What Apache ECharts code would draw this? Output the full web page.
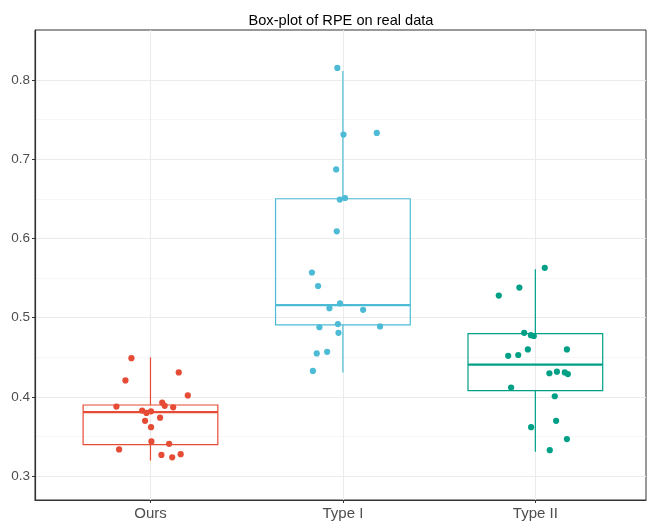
<!DOCTYPE html>
<html>
<head>
<meta charset="utf-8">
<script src="https://cdn.jsdelivr.net/npm/echarts@6/dist/echarts.min.js"></script>
<style>html,body{margin:0;padding:0;background:#fff}#c{width:647px;height:521px}</style>
</head>
<body>
<div id="c"></div>
<script>
const categories = ['Ours', 'Type I', 'Type II'];
const colors = ['#E64B35', '#4DBBD5', '#00A087'];
// box stats: [lower whisker, q1, median, q3, upper whisker]
const boxOurs  = [0.320, 0.340, 0.381, 0.390, 0.450];
const boxType1 = [0.431, 0.491, 0.516, 0.650, 0.811];
const boxType2 = [0.331, 0.408, 0.441, 0.480, 0.561];
// jittered points: [horizontal offset from category, value]
const ptsOurs = [
  [-0.099, 0.449], [0.147, 0.431], [-0.130, 0.421], [0.194, 0.402], [0.061, 0.393],
  [0.074, 0.389], [0.118, 0.387], [-0.177, 0.388], [-0.043, 0.383], [-0.021, 0.380],
  [0.003, 0.382], [0.050, 0.374], [-0.028, 0.370], [0.003, 0.362], [0.005, 0.344],
  [0.097, 0.341], [-0.163, 0.334], [0.057, 0.327], [0.113, 0.324], [0.157, 0.328]
];
const ptsType1 = [
  [-0.029, 0.815], [0.003, 0.731], [0.176, 0.733], [-0.035, 0.687], [-0.016, 0.649],
  [0.011, 0.651], [-0.032, 0.609], [-0.161, 0.557], [-0.129, 0.540], [-0.015, 0.518],
  [-0.070, 0.512], [0.105, 0.510], [-0.026, 0.492], [-0.122, 0.488], [0.193, 0.489],
  [-0.023, 0.481], [-0.082, 0.457], [-0.136, 0.455], [-0.156, 0.433]
];
const ptsType2 = [
  [0.049, 0.563], [-0.083, 0.538], [-0.190, 0.528], [-0.058, 0.481], [-0.023, 0.478],
  [-0.008, 0.477], [-0.039, 0.460], [0.164, 0.460], [-0.089, 0.453], [-0.141, 0.452],
  [0.073, 0.430], [0.112, 0.432], [0.153, 0.431], [0.169, 0.429], [-0.126, 0.412],
  [0.101, 0.401], [0.108, 0.370], [-0.022, 0.362], [0.164, 0.347], [0.075, 0.333]
];
const yTicks = [0.3, 0.4, 0.5, 0.6, 0.7, 0.8];
const yMinor = [0.35, 0.45, 0.55, 0.65, 0.75];

const boxes = [boxOurs, boxType1, boxType2];
const pts = [ptsOurs, ptsType1, ptsType2];
const BOX_HALF = 0.35;

const chart = echarts.init(document.getElementById('c'), null, {renderer: 'canvas'});

const series = [];
// grid lines (bottom layer)
series.push({
  type: 'line', data: [], silent: true, zlevel: 0, z: 0,
  markLine: {
    silent: true, symbol: 'none', animation: false, label: {show: false},
    lineStyle: {color: '#F2F2F2', width: 0.6, type: 'solid'},
    data: yMinor.map(v => ({yAxis: v}))
  }
});
series.push({
  type: 'line', data: [], silent: true, zlevel: 0, z: 0,
  markLine: {
    silent: true, symbol: 'none', animation: false, label: {show: false},
    lineStyle: {color: '#EBEBEB', width: 1.1, type: 'solid'},
    data: yTicks.map(v => ({yAxis: v})).concat([1, 2, 3].map(v => ({xAxis: v})))
  }
});
// boxes
series.push({
  type: 'custom', zlevel: 1, z: 2,
  data: boxes.map((b, i) => [i + 1].concat(b).concat([i])),
  renderItem: function (params, api) {
    const x = api.value(0);
    const idx = api.value(6);
    const c = colors[idx];
    const pLow = api.coord([x, api.value(1)]);
    const pQ1 = api.coord([x, api.value(2)]);
    const pMed = api.coord([x, api.value(3)]);
    const pQ3 = api.coord([x, api.value(4)]);
    const pUp = api.coord([x, api.value(5)]);
    const left = api.coord([x - BOX_HALF, api.value(3)])[0];
    const right = api.coord([x + BOX_HALF, api.value(3)])[0];
    const cx = pMed[0];
    const ls = {stroke: c, lineWidth: 1.2, fill: null};
    return {
      type: 'group',
      children: [
        {type: 'line', shape: {x1: cx, y1: pQ3[1], x2: cx, y2: pUp[1]}, style: ls},
        {type: 'line', shape: {x1: cx, y1: pQ1[1], x2: cx, y2: pLow[1]}, style: ls},
        {type: 'rect', shape: {x: left, y: pQ3[1], width: right - left, height: pQ1[1] - pQ3[1]}, style: {stroke: c, lineWidth: 1.2, fill: 'rgba(255,255,255,0)'}},
        {type: 'line', shape: {x1: left, y1: pMed[1], x2: right, y2: pMed[1]}, style: {stroke: c, lineWidth: 2.2}}
      ]
    };
  }
});
// points
pts.forEach((arr, i) => {
  series.push({
    type: 'scatter', zlevel: 1, z: 3,
    symbolSize: 6.2,
    itemStyle: {color: colors[i], opacity: 1},
    data: arr.map(p => [i + 1 + p[0], p[1]])
  });
});

chart.setOption({
  animation: false,
  backgroundColor: '#fff',
  title: {
    text: 'Box-plot of RPE on real data',
    left: 336, top: 8, textAlign: 'center',
    textStyle: {fontFamily: 'Liberation Sans', fontSize: 14.6, fontWeight: 'normal', color: '#000'}
  },
  grid: {
    left: 35, right: 1, top: 30, bottom: 20,
    show: true, borderColor: '#333333', borderWidth: 1, backgroundColor: 'transparent'
  },
  xAxis: {
    type: 'value', min: 0.4, max: 3.575, zlevel: 1,
    axisLine: {show: true, onZero: false, lineStyle: {color: '#333333', width: 1.2}},
    axisTick: {show: true, length: 3, customValues: [1, 2, 3], lineStyle: {color: '#333333'}},
    axisLabel: {
      customValues: [1, 2, 3], margin: 6,
      formatter: v => categories[Math.round(v) - 1] || '',
      fontFamily: 'Liberation Sans', fontSize: 15, color: '#4D4D4D'
    },
    splitLine: {show: false}
  },
  yAxis: {
    type: 'value', min: 0.2702, max: 0.8628, zlevel: 1,
    axisLine: {show: true, onZero: false, lineStyle: {color: '#333333', width: 1.2}},
    axisTick: {show: true, length: 3, customValues: yTicks, lineStyle: {color: '#333333'}},
    axisLabel: {
      customValues: yTicks, margin: 5,
      formatter: v => v.toFixed(1),
      fontFamily: 'Liberation Sans', fontSize: 13.5, color: '#4D4D4D'
    },
    splitLine: {show: false}
  },
  series: series
});
</script>
</body>
</html>
